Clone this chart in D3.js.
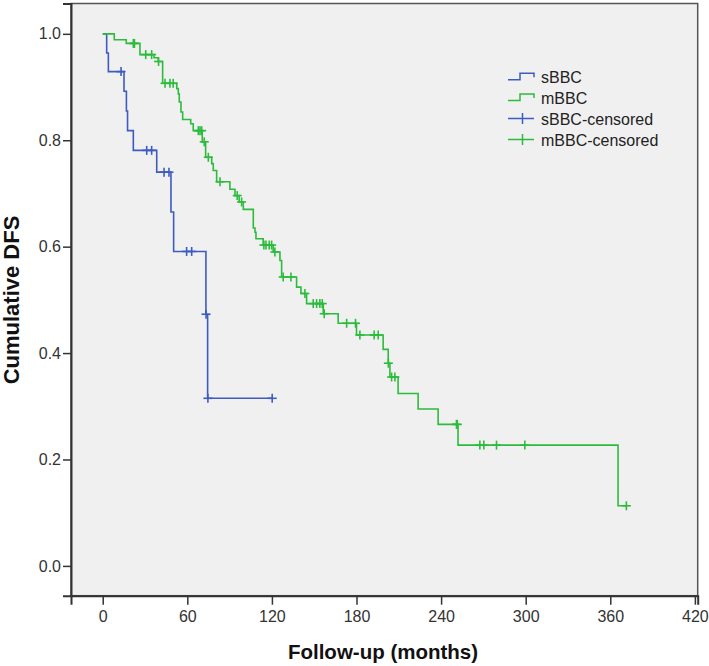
<!DOCTYPE html>
<html>
<head>
<meta charset="utf-8">
<script src="https://cdn.jsdelivr.net/npm/d3@7"></script>
<style>
  html, body { margin: 0; padding: 0; background: #ffffff; }
  svg { display: block; }
</style>
</head>
<body>
<svg id="chart" width="709" height="666"></svg>
<script>
// ---------------- data ----------------
const xTicks = [0, 60, 120, 180, 240, 300, 360, 420];
const yTicks = [0.0, 0.2, 0.4, 0.6, 0.8, 1.0];

const seriesNames = ["sBBC", "mBBC"];
const legendLabels = ["sBBC", "mBBC", "sBBC-censored", "mBBC-censored"];

// sBBC: event times (months) and survival after each event
const sbbcEventTimes = [2.8, 4.0, 15.1, 16.8, 17.6, 21.7, 38.3, 48.4, 50.3, 73.2, 74.4];
const sbbcSurvival   = [0.964, 0.929, 0.892, 0.855, 0.818, 0.781, 0.740, 0.665, 0.591, 0.473, 0.315];
const sbbcCensored   = [13.0, 31.2, 34.7, 43.5, 47.0, 59.5, 63.1, 73.3, 74.6, 120.2];

// mBBC: event times (months) and survival after each event
const mbbcEventTimes = [8.2, 16.7, 26.4, 36.4, 39.4, 42.5, 52.5, 53.6, 54.3, 55.5, 56.7, 62.4, 64.2,
  70.6, 73.0, 77.3, 78.4, 80.8, 90.2, 93.8, 96.8, 99.7, 106.8, 108.0, 108.7, 113.8, 120.9, 125.7,
  126.9, 137.5, 140.6, 144.6, 156.4, 167.0, 180.0, 198.9, 202.5, 203.7, 209.5, 223.7, 237.9, 252.0, 365.5];
const mbbcSurvival = [0.989, 0.982, 0.961, 0.955, 0.948, 0.907, 0.897, 0.887, 0.872, 0.853, 0.839, 0.831, 0.818,
  0.797, 0.768, 0.756, 0.743, 0.722, 0.708, 0.696, 0.684, 0.670, 0.635, 0.627, 0.615, 0.603, 0.590, 0.574,
  0.543, 0.524, 0.512, 0.493, 0.474, 0.456, 0.434, 0.407, 0.381, 0.355, 0.324, 0.295, 0.266, 0.227, 0.113];
const mbbcCensored = [21.7, 22.5, 30.5, 34.7, 39.6, 44.2, 47.7, 50.0, 67.8, 69.0, 70.2, 72.0, 74.9, 83.2,
  95.4, 98.5, 114.3, 115.8, 118.1, 119.8, 122.1, 128.0, 133.5, 143.4, 149.3, 151.7, 154.0, 155.7, 157.1,
  173.0, 179.3, 182.4, 192.5, 195.4, 202.6, 204.9, 207.2, 250.9, 251.5, 267.5, 270.3, 279.3, 299.4, 371.4];

const colors = ["#3d5cbf", "#2dbb3d"];

// ---------------- layout ----------------
const svg = d3.select("#chart");
const frame = { left: 71, right: 697.7, top: 3.5, bottom: 595.7 };

const x = d3.scaleLinear().domain([-22.5, 422]).range([frame.left, frame.right]);
const y = d3.scaleLinear().domain([-0.056, 1.057]).range([frame.bottom, frame.top]);

// plot background
svg.append("rect")
  .attr("x", frame.left).attr("y", frame.top)
  .attr("width", frame.right - frame.left).attr("height", frame.bottom - frame.top)
  .attr("fill", "#f0f0f0")
  .attr("stroke", "#555").attr("stroke-width", 1.5);

// axes
const fontFam = "'Liberation Sans', Arial, sans-serif";
const xAxis = d3.axisBottom(x).tickValues(xTicks).tickSize(9).tickPadding(6).tickFormat(d3.format("d"));
const yAxis = d3.axisLeft(y).tickValues(yTicks).tickSize(8).tickPadding(2).tickFormat(d3.format(".1f"));

const gx = svg.append("g").attr("transform", `translate(0,${frame.bottom})`).call(xAxis);
const gy = svg.append("g").attr("transform", `translate(${frame.left},0)`).call(yAxis);
[gx, gy].forEach(g => {
  g.select(".domain").attr("stroke", "#333").attr("stroke-width", 2);
  g.selectAll(".tick line").attr("stroke", "#333").attr("stroke-width", 1.5);
  g.selectAll(".tick text").attr("fill", "#333").style("font-family", fontFam).style("font-size", "16px");
});

// axis titles
svg.append("text")
  .attr("x", 383).attr("y", 659)
  .attr("text-anchor", "middle")
  .style("font-family", fontFam).style("font-size", "20.5px").style("font-weight", "bold")
  .attr("fill", "#111")
  .text("Follow-up (months)");

svg.append("text")
  .attr("transform", "translate(18.5,300) rotate(-90)")
  .attr("text-anchor", "middle")
  .style("font-family", fontFam).style("font-size", "22px").style("font-weight", "bold")
  .attr("fill", "#111")
  .text("Cumulative DFS");

// ---------------- curves ----------------
function survivalAt(times, surv, t) {
  let s = 1.0;
  for (let i = 0; i < times.length; i++) { if (times[i] <= t) s = surv[i]; }
  return s;
}

const series = [
  { times: sbbcEventTimes, surv: sbbcSurvival, cens: sbbcCensored, color: colors[0] },
  { times: mbbcEventTimes, surv: mbbcSurvival, cens: mbbcCensored, color: colors[1] }
];

const line = d3.line().x(d => x(d[0])).y(d => y(d[1])).curve(d3.curveStepAfter);

series.forEach(s => {
  const pts = [[0, 1.0]];
  s.times.forEach((t, i) => pts.push([t, s.surv[i]]));
  const tEnd = d3.max(s.cens.concat(s.times));
  pts.push([tEnd, survivalAt(s.times, s.surv, tEnd)]);

  svg.append("path")
    .attr("d", line(pts))
    .attr("fill", "none")
    .attr("stroke", s.color)
    .attr("stroke-width", 1.6);

  const g = svg.append("g");
  s.cens.forEach(t => {
    const cx = x(t), cy = y(survivalAt(s.times, s.surv, t));
    g.append("line").attr("x1", cx - 4.5).attr("x2", cx + 4.5).attr("y1", cy).attr("y2", cy)
      .attr("stroke", s.color).attr("stroke-width", 1.6);
    g.append("line").attr("x1", cx).attr("x2", cx).attr("y1", cy - 4.5).attr("y2", cy + 4.5)
      .attr("stroke", s.color).attr("stroke-width", 1.6);
  });
});

// ---------------- legend ----------------
const lg = svg.append("g");
const rowY = [83.3, 104, 124.5, 145.5];
legendLabels.forEach((lab, i) => {
  const c = colors[i % 2];
  const by = rowY[i];
  if (i < 2) {
    const lowY = by - 3.5, highY = by - 10;
    lg.append("path")
      .attr("d", `M508,${lowY} H520 V${highY} H534 V${highY + 4}`)
      .attr("fill", "none").attr("stroke", c).attr("stroke-width", 1.5);
  } else {
    const cy = by - 6;
    lg.append("line").attr("x1", 508).attr("x2", 534).attr("y1", cy).attr("y2", cy)
      .attr("stroke", c).attr("stroke-width", 1.5);
    lg.append("line").attr("x1", 522.5).attr("x2", 522.5).attr("y1", cy - 5.5).attr("y2", cy + 5.5)
      .attr("stroke", c).attr("stroke-width", 1.5);
  }
  lg.append("text")
    .attr("x", 541).attr("y", by)
    .style("font-family", fontFam).style("font-size", "16px")
    .attr("fill", "#222")
    .text(lab);
});
</script>
</body>
</html>
